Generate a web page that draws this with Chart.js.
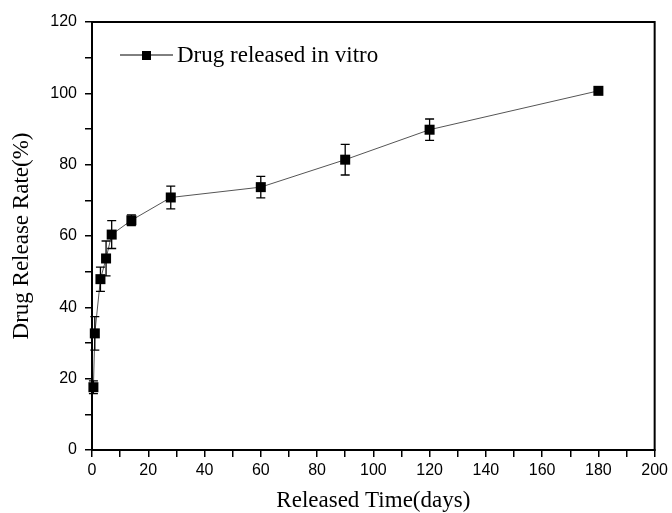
<!DOCTYPE html>
<html><head><meta charset="utf-8">
<script src="https://cdn.jsdelivr.net/npm/chart.js@4.4.1/dist/chart.umd.min.js"></script>
<style>html,body{margin:0;padding:0;background:#fff}#wrap{width:672px;height:513px}</style>
</head><body><div id="wrap"><canvas id="c" width="672" height="513"></canvas></div>
<script>
const days = [0.5, 1, 3, 5, 7, 14, 28, 60, 90, 120, 180];
const releaseRate = [17.6, 32.7, 47.9, 53.7, 60.4, 64.4, 70.8, 73.7, 81.4, 89.8, 100.7];
const errorSD = [1.8, 4.7, 3.4, 4.9, 3.9, 1.5, 3.2, 3.0, 4.3, 3.0, 0.4];
const xTicks = [0, 20, 40, 60, 80, 100, 120, 140, 160, 180, 200];
const yTicks = [0, 20, 40, 60, 80, 100, 120];
const seriesLabel = 'Drug released in vitro';

const serif = "'Liberation Serif','Times New Roman',serif";
const sans = "'Liberation Sans',Arial,sans-serif";

const errorBars = {
  id: 'errorBars',
  afterDatasetsDraw(chart) {
    const ctx = chart.ctx, xs = chart.scales.x, ys = chart.scales.y;
    ctx.save();
    ctx.strokeStyle = '#000'; ctx.lineWidth = 1.3;
    days.forEach((d, i) => {
      const x = xs.getPixelForValue(d);
      const yt = ys.getPixelForValue(releaseRate[i] + errorSD[i]);
      const yb = ys.getPixelForValue(releaseRate[i] - errorSD[i]);
      ctx.beginPath();
      ctx.moveTo(x, yt); ctx.lineTo(x, yb);
      ctx.moveTo(x - 4.5, yt); ctx.lineTo(x + 4.5, yt);
      ctx.moveTo(x - 4.5, yb); ctx.lineTo(x + 4.5, yb);
      ctx.stroke();
    });
    ctx.fillStyle = '#000';
    days.forEach((d, i) => {
      const x = xs.getPixelForValue(d), y = ys.getPixelForValue(releaseRate[i]);
      ctx.fillRect(x - 5, y - 5, 10, 10);
    });
    ctx.restore();
  }
};

const frame = {
  id: 'frame',
  afterDraw(chart) {
    const {left, right, top, bottom} = chart.chartArea, ctx = chart.ctx;
    ctx.save();
    ctx.strokeStyle = '#000'; ctx.lineWidth = 2;
    ctx.strokeRect(left, top, right - left, bottom - top);
    const lx = 120, ly = 55;
    ctx.lineWidth = 1; ctx.strokeStyle = '#000';
    ctx.beginPath(); ctx.moveTo(lx, ly); ctx.lineTo(lx + 53, ly); ctx.stroke();
    ctx.fillStyle = '#000';
    ctx.fillRect(lx + 22, ly - 4, 9, 9);
    ctx.font = '23px ' + serif;
    ctx.textBaseline = 'middle';
    ctx.fillText(seriesLabel, lx + 57, ly + 1);
    ctx.restore();
  }
};

new Chart(document.getElementById('c'), {
  type: 'line',
  data: {
    datasets: [{
      label: seriesLabel,
      data: days.map((d, i) => ({x: d, y: releaseRate[i]})),
      borderColor: '#555',
      borderWidth: 1,
      pointRadius: 0,
      tension: 0
    }]
  },
  options: {
    responsive: false,
    animation: false,
    layout: {padding: {top: 22, right: 15, left: 8, bottom: 0}},
    plugins: {legend: {display: false}, tooltip: {enabled: false}},
    scales: {
      x: {
        type: 'linear', min: 0, max: 200,
        afterFit(s) { s.height = 63; },
        afterBuildTicks(s) { const t = []; for (let v = 0; v <= 200; v += 10) t.push({value: v}); s.ticks = t; },
        grid: {drawOnChartArea: false, color: '#000', tickLength: 7, lineWidth: 1.5},
        border: {color: '#000', width: 2},
        ticks: {
          color: '#000', font: {family: sans, size: 16}, padding: 4, maxRotation: 0, autoSkip: false,
          callback: v => xTicks.includes(v) ? String(v) : ''
        },
        title: {display: true, text: 'Released Time(days)', color: '#000', font: {family: serif, size: 23}, padding: {top: 4, bottom: -2}}
      },
      y: {
        type: 'linear', min: 0, max: 120,
        afterFit(s) { s.width = 84; },
        afterBuildTicks(s) { const t = []; for (let v = 0; v <= 120; v += 10) t.push({value: v}); s.ticks = t; },
        grid: {drawOnChartArea: false, color: '#000', tickLength: 7, lineWidth: 1.5},
        border: {color: '#000', width: 2},
        ticks: {
          color: '#000', font: {family: sans, size: 16}, padding: 8, autoSkip: false,
          callback: v => yTicks.includes(v) ? String(v) : ''
        },
        title: {display: true, text: 'Drug Release Rate(%)', color: '#000', font: {family: serif, size: 23}, padding: {top: 0, bottom: 4}}
      }
    }
  },
  plugins: [errorBars, frame]
});
</script></body></html>
